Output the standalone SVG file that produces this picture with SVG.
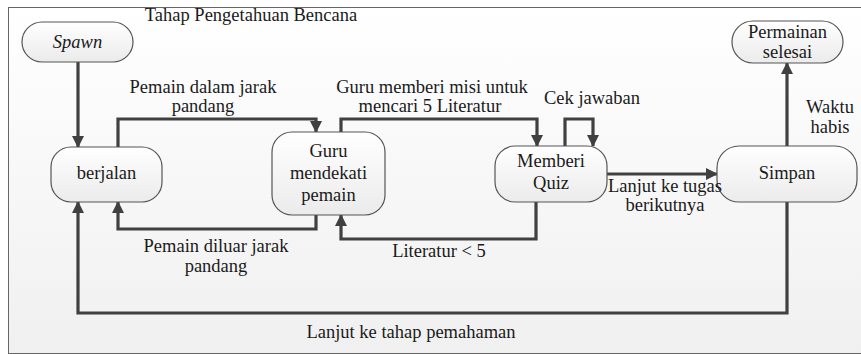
<svg xmlns="http://www.w3.org/2000/svg" width="861" height="354" viewBox="0 0 861 354" font-family="'Liberation Serif', 'Times New Roman', serif">
<defs>
<linearGradient id="bg" x1="0" y1="0" x2="0" y2="1"><stop offset="0" stop-color="#ffffff"/><stop offset="1" stop-color="#f0f0f0"/></linearGradient>
<linearGradient id="nf" x1="0" y1="0" x2="0" y2="1"><stop offset="0" stop-color="#ffffff"/><stop offset="1" stop-color="#ebebeb"/></linearGradient>
<marker id="ah" viewBox="0 0 12 12" refX="11" refY="6" markerWidth="12" markerHeight="12" markerUnits="userSpaceOnUse" orient="auto"><path d="M0,0 L12,6 L0,12 Z" fill="#404040"/></marker>
</defs>
<style>
.t{font-family:'Liberation Serif','Times New Roman',serif;font-size:18.5px;fill:#1a1a1a;text-anchor:middle}
.n{fill:url(#nf);stroke:#555;stroke-width:1.2}
.c{fill:none;stroke:#404040;stroke-width:3.2;marker-end:url(#ah)}
</style>
<rect x="8.5" y="7.5" width="860" height="346" fill="url(#bg)" stroke="#666" stroke-width="1"/>
<text class="t" x="251" y="21">Tahap Pengetahuan Bencana</text>
<g id="connectors">
<path class="c" d="M78,62 V147"/>
<path class="c" d="M118,147 V119 H316 V132"/>
<path class="c" d="M341,132 V119 H537 V146"/>
<path class="c" d="M565,146 V119 H593 V146"/>
<path class="c" d="M607,174 H717"/>
<path class="c" d="M787,146 V63"/>
<path class="c" d="M316,215 V229 H118 V202"/>
<path class="c" d="M536,202 V239 H341 V215"/>
<path class="c" d="M787,202 V313 H78 V202"/>
</g>
<g id="spawn"><rect class="n" x="22" y="22" width="111" height="40" rx="20"/><text class="t" x="77.5" y="48" font-style="italic">Spawn</text></g>
<g id="berjalan"><rect class="n" x="51" y="147" width="111" height="55" rx="20"/><text class="t" x="106.5" y="179">berjalan</text></g>
<g id="guru"><rect class="n" x="272" y="132" width="113" height="83" rx="20"/><text class="t" x="328.5" y="157">Guru</text><text class="t" x="328.5" y="179">mendekati</text><text class="t" x="328.5" y="201">pemain</text></g>
<g id="quiz"><rect class="n" x="495" y="146" width="112" height="56" rx="20"/><text class="t" x="551" y="167">Memberi</text><text class="t" x="551" y="189">Quiz</text></g>
<g id="simpan"><rect class="n" x="717" y="146" width="140" height="56" rx="22"/><text class="t" x="787" y="179">Simpan</text></g>
<g id="selesai"><rect class="n" x="732" y="21" width="111" height="42" rx="21"/><text class="t" x="787.5" y="38">Permainan</text><text class="t" x="787.5" y="58">selesai</text></g>
<g id="labels">
<text class="t" x="203" y="93">Pemain dalam jarak</text>
<text class="t" x="203" y="112">pandang</text>
<text class="t" x="432" y="93">Guru memberi misi untuk</text>
<text class="t" x="430" y="112">mencari 5 Literatur</text>
<text class="t" x="592" y="104">Cek jawaban</text>
<text class="t" x="830" y="113">Waktu</text>
<text class="t" x="830" y="133">habis</text>
<text class="t" x="665" y="192">Lanjut ke tugas</text>
<text class="t" x="665" y="211">berikutnya</text>
<text class="t" x="216" y="252">Pemain diluar jarak</text>
<text class="t" x="216" y="272">pandang</text>
<text class="t" x="439" y="257">Literatur &lt; 5</text>
<text class="t" x="411" y="338">Lanjut ke tahap pemahaman</text>
</g>
</svg>
